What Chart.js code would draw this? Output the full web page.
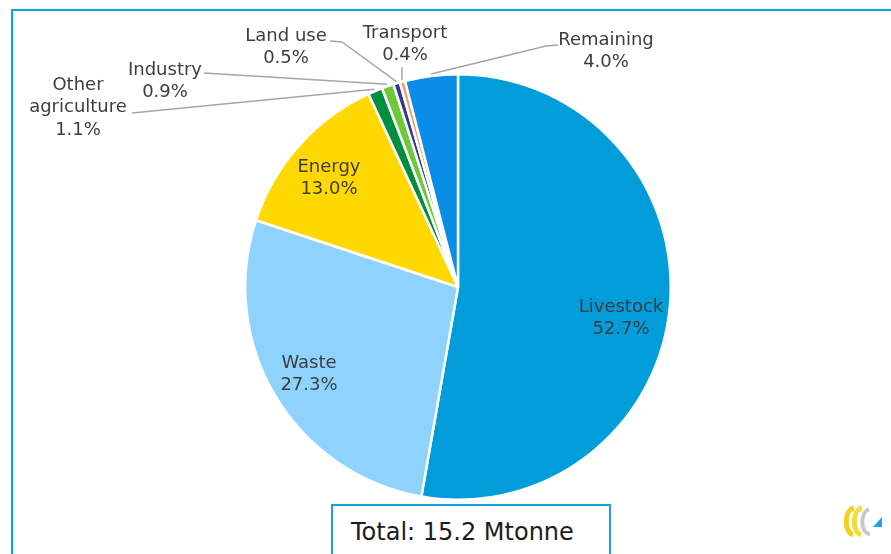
<!DOCTYPE html>
<html>
<head>
<meta charset="utf-8">
<script src="https://cdn.jsdelivr.net/npm/chart.js@4.4.0/dist/chart.umd.min.js"></script>
<style>
  html, body { margin: 0; padding: 0; background: #fff; overflow: hidden; }
  #wrap { position: relative; width: 891px; height: 554px; }
  #frame { position: absolute; left: 11px; top: 9px; right: -4px; bottom: -4px;
           border-top: 2px solid #0AA5E3; border-left: 2px solid #0AA5E3; }
  #total { position: absolute; left: 331px; top: 504px; width: 280px; height: 60px;
           border: 2px solid #1A9FD6; box-sizing: border-box; background: #fff;
           font-family: "DejaVu Sans", sans-serif; font-size: 24px; color: #1c1c1c;
           padding: 12px 0 0 18px; }
  #logo { position: absolute; left: 840px; top: 502px; }
</style>
</head>
<body>
<div id="wrap">
  <div id="frame"></div>
  <canvas id="pie" width="891" height="554"></canvas>
  <div id="total">Total: 15.2 Mtonne</div>
  <svg id="logo" width="46" height="40" viewBox="0 0 46 40">
    <path d="M14 6 C4 8 4 30 13 33" stroke="#F2D21B" stroke-width="5" fill="none"/>
    <path d="M22 6 C12 8 12 30 21 33" stroke="#F1DE3C" stroke-width="5" fill="none"/>
    <path d="M29 7 C20 11 20 31 30 32" stroke="#C6C8CC" stroke-width="4" fill="none"/>
    <path d="M33 25 L42 15 L42 25 Z" fill="#1AA3E8"/>
  </svg>
</div>
<script>
// emissions by source, share of total (%)
var sources = ["Livestock", "Waste", "Energy", "Other agriculture", "Industry", "Land use", "Transport", "Remaining"];
var shares = [52.7, 27.3, 13.0, 1.1, 0.9, 0.5, 0.4, 4.0];
var colours = ["#009DDA", "#8ED2FE", "#FFD800", "#008F3C", "#6FC83A", "#2E3C8E", "#F3A067", "#0A8DE6"];

// where each label goes (text lines, centre x, first line y, leader path)
var labelSpots = [
  { lines: ["Livestock", "52.7%"], x: 621, y: 307 },
  { lines: ["Waste", "27.3%"], x: 309, y: 363 },
  { lines: ["Energy", "13.0%"], x: 329, y: 167 },
  { lines: ["Other", "agriculture", "1.1%"], x: 78, y: 85, leader: [[132, 113]] },
  { lines: ["Industry", "0.9%"], x: 165, y: 70, leader: [[204, 73]] },
  { lines: ["Land use", "0.5%"], x: 286, y: 36, leader: [[330, 41], [342, 42]] },
  { lines: ["Transport", "0.4%"], x: 405, y: 33, leader: [[402, 67]] },
  { lines: ["Remaining", "4.0%"], x: 606, y: 40, leader: [[558, 45], [546, 46]] }
];

var pieLabels = {
  id: "pieLabels",
  afterDatasetsDraw: function(chart) {
    var ctx = chart.ctx;
    var meta = chart.getDatasetMeta(0);
    ctx.save();
    meta.data.forEach(function(arc, i) {
      var spot = labelSpots[i];
      var p = arc.getProps(["x", "y", "startAngle", "endAngle", "outerRadius"], true);
      var mid = (p.startAngle + p.endAngle) / 2;
      if (spot.leader) {
        var r = p.outerRadius + 2;
        ctx.strokeStyle = "#A6A6A6";
        ctx.lineWidth = 1.5;
        ctx.beginPath();
        ctx.moveTo(spot.leader[0][0], spot.leader[0][1]);
        for (var k = 1; k < spot.leader.length; k++) ctx.lineTo(spot.leader[k][0], spot.leader[k][1]);
        ctx.lineTo(p.x + Math.cos(mid) * r, p.y + Math.sin(mid) * r);
        ctx.stroke();
      }
      ctx.fillStyle = "#3d3d3d";
      ctx.font = "18px 'DejaVu Sans'";
      ctx.textAlign = "center";
      ctx.textBaseline = "middle";
      spot.lines.forEach(function(t, j) {
        ctx.fillText(t, spot.x, spot.y + j * 22.5);
      });
    });
    ctx.restore();
  }
};

var pie = new Chart(document.getElementById("pie"), {
  type: "pie",
  data: {
    labels: sources,
    datasets: [{
      data: shares,
      backgroundColor: colours,
      borderColor: "#ffffff",
      borderWidth: 2.5
    }]
  },
  options: {
    responsive: false,
    devicePixelRatio: 1,
    animation: false,
    layout: { padding: { left: 244, right: 219, top: 73, bottom: 53 } },
    plugins: {
      legend: { display: false },
      tooltip: { enabled: false }
    }
  },
  plugins: [pieLabels]
});
</script>
</body>
</html>
